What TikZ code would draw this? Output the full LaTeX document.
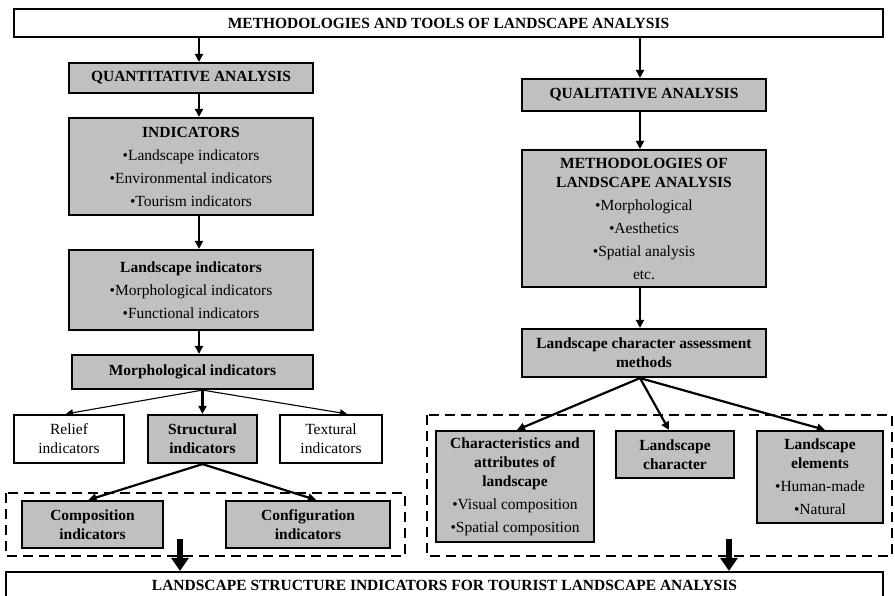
\documentclass[tikz,border=0pt]{standalone}
\usepackage{fontspec}
\setmainfont{Liberation Serif}
\usetikzlibrary{arrows.meta}
\definecolor{boxgrey}{RGB}{192,192,192}

\begin{document}
\begin{tikzpicture}[x=1pt, y=-1pt,
    every node/.style={font=\fontsize{15.5}{19}\selectfont, align=center, inner sep=0pt},
    greybox/.style={draw, line width=2.2pt, fill=boxgrey},
    whitebox/.style={draw, line width=2.2pt, fill=white},
    link/.style={line width=2.2pt, -{Triangle[length=8pt, width=8pt]}},
    thinlink/.style={line width=1.1pt, -{Triangle[length=7pt, width=7pt]}},
    bigarrow/.style={line width=5.5pt, -{Triangle[length=13pt, width=17pt]}},
    dashbox/.style={line width=2.4pt, dash pattern=on 10pt off 6pt}]
  \useasboundingbox (0,0) rectangle (895,595);
  % dashed groups
  \draw[dashbox] (6,493) rectangle (405,556);
  \draw[dashbox] (427,415) rectangle (892,556);
  % top
  \node[whitebox, minimum width=869pt, minimum height=28pt] (top) at (448.5,23) {\textbf{METHODOLOGIES AND TOOLS OF LANDSCAPE ANALYSIS}};
  % left column
  \node[greybox, minimum width=244pt, minimum height=30pt] (quant) at (191,78) {\textbf{QUANTITATIVE ANALYSIS}};
  \node[greybox, minimum width=244pt, minimum height=97pt] (ind) at (191,166.5) {\textbf{INDICATORS}\\[4pt]\textbullet Landscape indicators\\[4pt]\textbullet Environmental indicators\\[4pt]\textbullet Tourism indicators};
  \node[greybox, minimum width=244pt, minimum height=80pt] (lind) at (191,290) {\textbf{Landscape indicators}\\[4pt]\textbullet Morphological indicators\\[4pt]\textbullet Functional indicators};
  \node[greybox, minimum width=241pt, minimum height=34pt] (morph) at (192.5,372) {\textbf{Morphological indicators}};
  \node[whitebox, minimum width=110pt, minimum height=48pt] (relief) at (69,439) {Relief\\indicators};
  \node[greybox, minimum width=109pt, minimum height=48pt] (struct) at (202.5,439) {\textbf{Structural}\\\textbf{indicators}};
  \node[whitebox, minimum width=102pt, minimum height=48pt] (textural) at (331,439) {Textural\\indicators};
  \node[greybox, minimum width=141pt, minimum height=47pt] (comp) at (92.5,524.5) {\textbf{Composition}\\\textbf{indicators}};
  \node[greybox, minimum width=164pt, minimum height=47pt] (config) at (308,524.5) {\textbf{Configuration}\\\textbf{indicators}};
  % right column
  \node[greybox, minimum width=244pt, minimum height=32pt] (qual) at (644,95) {\textbf{QUALITATIVE ANALYSIS}};
  \node[greybox, minimum width=244pt, minimum height=137pt] (meth) at (644,218.5) {\textbf{METHODOLOGIES OF}\\\textbf{LANDSCAPE ANALYSIS}\\[4pt]\textbullet Morphological\\[4pt]\textbullet Aesthetics\\[4pt]\textbullet Spatial analysis\\[4pt]etc.};
  \node[greybox, minimum width=244pt, minimum height=48pt] (lca) at (644,353) {\textbf{Landscape character assessment}\\\textbf{methods}};
  \node[greybox, minimum width=158pt, minimum height=111pt] (charact) at (515,486.5) {\textbf{Characteristics and}\\\textbf{attributes of}\\\textbf{landscape}\\[4pt]\textbullet Visual composition\\[4pt]\textbullet Spatial composition};
  \node[greybox, minimum width=118pt, minimum height=47pt] (lchar) at (675,454.5) {\textbf{Landscape}\\\textbf{character}};
  \node[greybox, minimum width=126pt, minimum height=92pt] (lelem) at (820,477) {\textbf{Landscape}\\\textbf{elements}\\[4pt]\textbullet Human-made\\[4pt]\textbullet Natural};
  % bottom
  \node[whitebox, minimum width=877pt, minimum height=26pt] (bottom) at (444.5,585) {\textbf{LANDSCAPE STRUCTURE INDICATORS FOR TOURIST LANDSCAPE ANALYSIS}};
  % connectors
  \coordinate (lcol) at (199,0);
  \coordinate (rcol) at (640,0);
  \draw[link] (top.south -| lcol) -- (quant.north -| lcol);
  \draw[link] (quant.south -| lcol) -- (ind.north -| lcol);
  \draw[link] (ind.south -| lcol) -- (lind.north -| lcol);
  \draw[link] (lind.south -| lcol) -- (morph.north -| lcol);
  \draw[thinlink] (morph.south -| struct.north) -- ([xshift=-3pt]relief.north);
  \draw[link] (morph.south -| struct.north) -- (struct.north);
  \draw[thinlink] (morph.south -| struct.north) -- ([xshift=16pt]textural.north);
  \draw[link] (struct.south) -- ([xshift=-4pt]comp.north);
  \draw[link] (struct.south) -- ([xshift=8pt]config.north);
  \draw[link] (top.south -| rcol) -- (qual.north -| rcol);
  \draw[link] (qual.south -| rcol) -- (meth.north -| rcol);
  \draw[link] (meth.south -| rcol) -- (lca.north -| rcol);
  \draw[link] (lca.south -| rcol) -- ([xshift=2pt]charact.north);
  \draw[link] (lca.south -| rcol) -- ([xshift=-6pt]lchar.north);
  \draw[link] (lca.south -| rcol) -- ([xshift=5pt]lelem.north);
  \coordinate (lout) at (180,539);
  \coordinate (rout) at (729,539);
  \draw[bigarrow] (lout) -- (lout |- bottom.north);
  \draw[bigarrow] (rout) -- (rout |- bottom.north);
\end{tikzpicture}
\end{document}
